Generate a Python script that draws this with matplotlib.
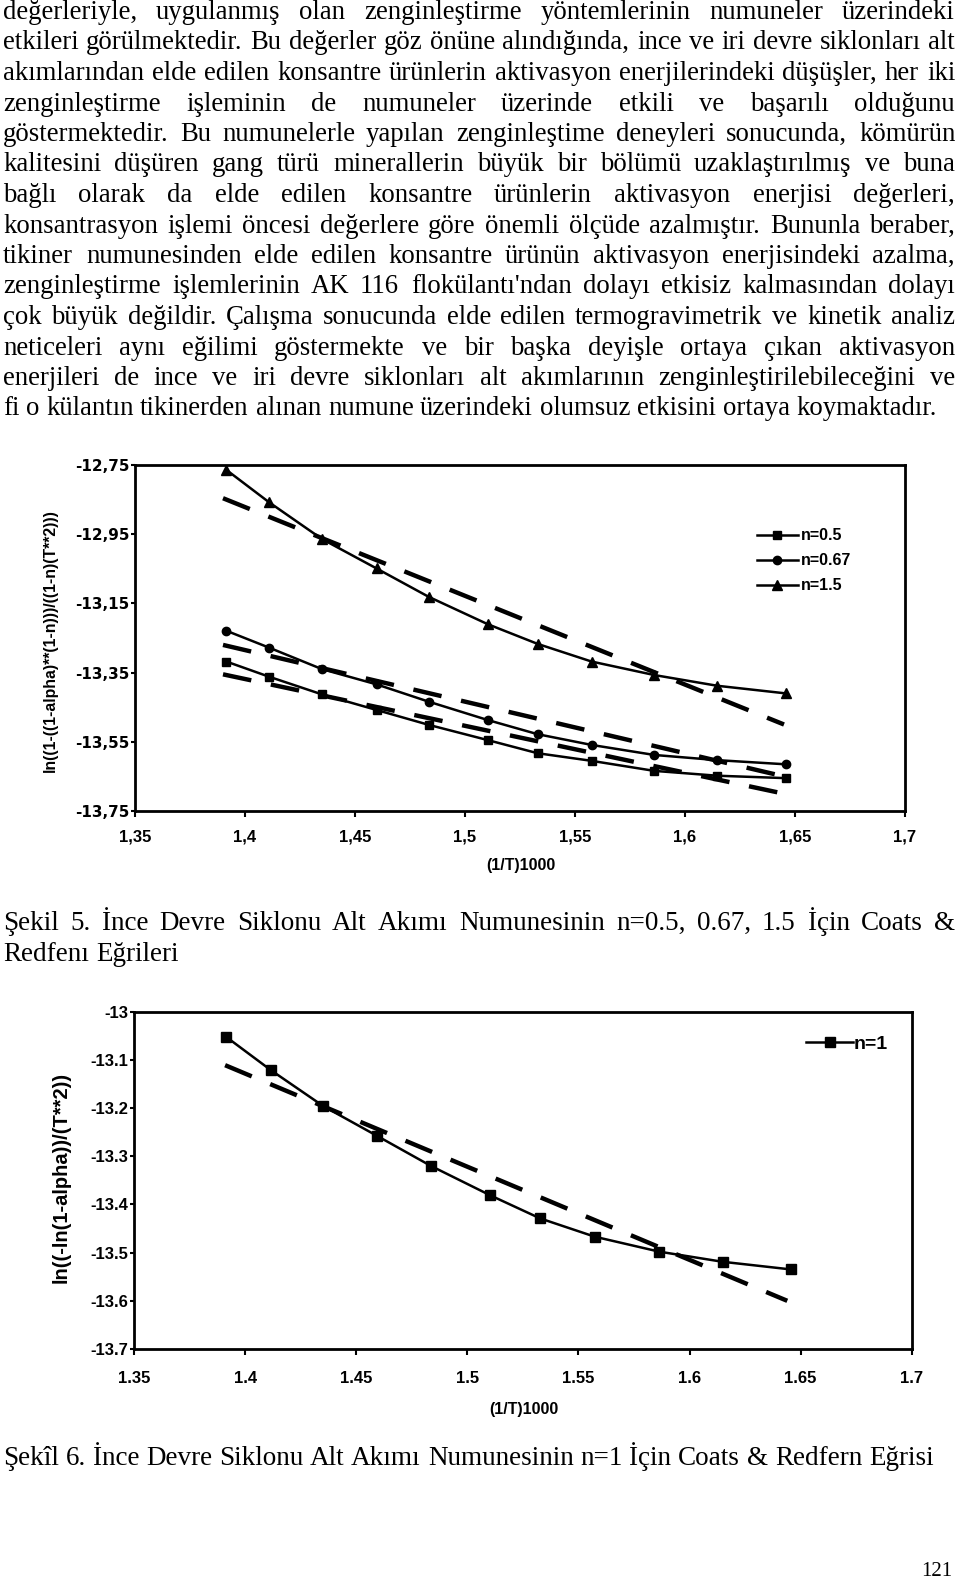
import matplotlib
matplotlib.use("Agg")
import matplotlib.pyplot as plt

W, H = 960, 1580

'''
Part I. Sayfa metni
'''
body_lines = [
    "değerleriyle, uygulanmış olan zenginleştirme yöntemlerinin numuneler üzerindeki",
    "etkileri görülmektedir. Bu değerler göz önüne alındığında, ince ve iri devre siklonları alt",
    "akımlarından elde edilen konsantre ürünlerin aktivasyon enerjilerindeki düşüşler, her iki",
    "zenginleştirme işleminin de numuneler üzerinde etkili ve başarılı olduğunu",
    "göstermektedir. Bu numunelerle yapılan zenginleştime deneyleri sonucunda, kömürün",
    "kalitesini düşüren gang türü minerallerin büyük bir bölümü uzaklaştırılmış ve buna",
    "bağlı olarak da elde edilen konsantre ürünlerin aktivasyon enerjisi değerleri,",
    "konsantrasyon işlemi öncesi değerlere göre önemli ölçüde azalmıştır. Bununla beraber,",
    "tikiner numunesinden elde edilen konsantre ürünün aktivasyon enerjisindeki azalma,",
    "zenginleştirme işlemlerinin AK 116 flokülantı'ndan dolayı etkisiz kalmasından dolayı",
    "çok büyük değildir. Çalışma sonucunda elde edilen termogravimetrik ve kinetik analiz",
    "neticeleri aynı eğilimi göstermekte ve bir başka deyişle ortaya çıkan aktivasyon",
    "enerjileri de ince ve iri devre siklonları alt akımlarının zenginleştirilebileceğini ve",
    "fi o külantın tikinerden alınan numune üzerindeki olumsuz etkisini ortaya koymaktadır.",
]
caption5 = ["Şekil 5. İnce Devre Siklonu Alt Akımı Numunesinin n=0.5, 0.67, 1.5 İçin Coats &",
            "Redfenı Eğrileri"]
caption6 = "Şekîl 6. İnce Devre Siklonu Alt Akımı Numunesinin n=1 İçin Coats & Redfern Eğrisi"
page_no = "121"

'''
Part II. Şekil 5 verileri
'''
inv_t = [1.3915, 1.411, 1.435, 1.4598, 1.4835, 1.5103, 1.533, 1.5575, 1.586, 1.6146, 1.6457]
n05 = [-13.318, -13.362, -13.413, -13.458, -13.501, -13.545, -13.583, -13.605, -13.634, -13.648, -13.655]
n067 = [-13.229, -13.278, -13.340, -13.384, -13.434, -13.487, -13.528, -13.559, -13.588, -13.603, -13.615]
n15 = [-12.764, -12.858, -12.964, -13.049, -13.131, -13.210, -13.267, -13.318, -13.357, -13.388, -13.410]
fit_x = [1.39, 1.645]
fit05 = [-13.355, -13.70]
fit067 = [-13.27, -13.65]
fit15 = [-12.846, -13.50]
xticks1 = [1.35, 1.4, 1.45, 1.5, 1.55, 1.6, 1.65, 1.7]
xticklabels1 = ["1,35", "1,4", "1,45", "1,5", "1,55", "1,6", "1,65", "1,7"]
yticks1 = [-12.75, -12.95, -13.15, -13.35, -13.55, -13.75]
yticklabels1 = ["-12,75", "-12,95", "-13,15", "-13,35", "-13,55", "-13,75"]

'''
Part III. Şekil 6 verileri
'''
inv_t2 = [1.3914, 1.4115, 1.4352, 1.4595, 1.4836, 1.5103, 1.5328, 1.5574, 1.5864, 1.6149, 1.6459]
n1 = [-13.052, -13.121, -13.196, -13.258, -13.320, -13.381, -13.429, -13.467, -13.498, -13.519, -13.535]
fit2_x = [1.391, 1.644]
fit1 = [-13.111, -13.60]
xticks2 = [1.35, 1.4, 1.45, 1.5, 1.55, 1.6, 1.65, 1.7]
xticklabels2 = ["1.35", "1.4", "1.45", "1.5", "1.55", "1.6", "1.65", "1.7"]
yticks2 = [-13.0, -13.1, -13.2, -13.3, -13.4, -13.5, -13.6, -13.7]
yticklabels2 = ["-13", "-13.1", "-13.2", "-13.3", "-13.4", "-13.5", "-13.6", "-13.7"]


fig = plt.figure(figsize=(W / 100, H / 100), dpi=100)
fig.patch.set_facecolor("white")
renderer = fig.canvas.get_renderer()
SERIF = "Liberation Serif"


def put_line(text, base_px, size, justify=True, left=3, right=955):
    # her kelime ayrı yazı; iki yana yaslı satırda aralıklar eşit dağıtılır
    y = 1 - base_px / H
    words = text.split(" ")
    objs = [fig.text(0, y, w, fontsize=size, family=SERIF, va="baseline", ha="left")
            for w in words]
    widths = [o.get_window_extent(renderer=renderer).width for o in objs]
    if justify and len(words) > 1:
        gap = (right - left - sum(widths)) / (len(words) - 1)
    else:
        gap = 0.25 * size * 100 / 72
    x = left
    for o, w in zip(objs, widths):
        o.set_x(round(x) / W)
        x += w + gap


BODY_SIZE = 19.3
CAP_SIZE = 19.5
for i, line in enumerate(body_lines):
    put_line(line, 19 + round(i * 30.5), BODY_SIZE, justify=(i < len(body_lines) - 1))

put_line(caption5[0], 930, CAP_SIZE)
put_line(caption5[1], 961, CAP_SIZE, justify=False)
put_line(caption6, 1465, CAP_SIZE, justify=False)
fig.text(952 / W, 1 - 1576 / H, page_no, fontsize=15, family=SERIF, ha="right", va="baseline")


def style_axes(ax, xticks, xlabels, yticks, ylabels, xpad, yfont, ysize):
    for s in ax.spines.values():
        s.set_linewidth(2.0)
        s.set_color("black")
    ax.set_xticks(xticks)
    ax.set_xticklabels(xlabels, fontsize=12, fontweight="bold", family="Liberation Sans")
    ax.set_yticks(yticks)
    ax.set_yticklabels(ylabels, fontsize=ysize, fontweight="bold", family=yfont)
    ax.tick_params(axis="x", direction="out", length=4, width=1.5, pad=xpad)
    ax.tick_params(axis="y", direction="out", length=3, width=1.5, pad=1)
    ax.set_xlim(xticks[0], xticks[-1])
    ax.set_ylim(yticks[-1], yticks[0])


dash_kw = dict(color="black", lw=3.2, dashes=(6.5, 4.5), solid_capstyle="butt")
line_kw = dict(color="black", lw=1.8)

'''
Part IV. Şekil 5
'''
ax1 = fig.add_axes([135 / W, 1 - 811 / H, 770 / W, 346 / H])
ax1.plot(fit_x, fit05, **dash_kw)
ax1.plot(fit_x, fit067, **dash_kw)
ax1.plot(fit_x, fit15, **dash_kw)
ax1.plot(inv_t, n05, marker="s", ms=6, label="n=0.5", **line_kw)
ax1.plot(inv_t, n067, marker="o", ms=6, label="n=0.67", **line_kw)
ax1.plot(inv_t, n15, marker="^", ms=6.5, label="n=1.5", **line_kw)
style_axes(ax1, xticks1, xticklabels1, yticks1, yticklabels1, xpad=9,
           yfont="DejaVu Sans", ysize=11)
ax1.set_xlabel("(1/T)1000", fontsize=11.5, fontweight="bold", family="Liberation Sans")
ax1.xaxis.set_label_coords(0.501, -0.137)
ax1.set_ylabel("ln((1-((1-alpha)**(1-n)))/((1-n)(T**2)))", fontsize=11.4,
               fontweight="bold", family="Liberation Sans")
ax1.yaxis.set_label_coords(-0.100, 0.494)
ax1.legend(loc="upper left", bbox_to_anchor=(0.797, 0.84), frameon=False,
           handlelength=2.6, handletextpad=0.15, labelspacing=0.62, borderpad=0,
           prop={"family": "Liberation Sans", "weight": "bold", "size": 11.5})

'''
Part V. Şekil 6
'''
ax2 = fig.add_axes([134 / W, 1 - 1349 / H, 777.7 / W, 337.3 / H])
ax2.plot(fit2_x, fit1, **dash_kw)
ax2.plot(inv_t2, n1, marker="s", ms=7.5, label="n=1", **line_kw)
style_axes(ax2, xticks2, xticklabels2, yticks2, yticklabels2, xpad=12,
           yfont="Liberation Sans", ysize=12)
ax2.set_xlabel("(1/T)1000", fontsize=11.5, fontweight="bold", family="Liberation Sans")
ax2.xaxis.set_label_coords(0.501, -0.157)
ax2.set_ylabel("ln((-ln(1-alpha))/(T**2))", fontsize=14.5, fontweight="bold",
               family="Liberation Sans")
ax2.yaxis.set_label_coords(-0.082, 0.51)
ax2.legend(loc="upper left", bbox_to_anchor=(0.852, 0.958), frameon=False,
           handlelength=2.4, handletextpad=0.05, borderpad=0,
           prop={"family": "Liberation Sans", "weight": "bold", "size": 14})

fig.savefig("out.png", dpi=100, facecolor="white")
